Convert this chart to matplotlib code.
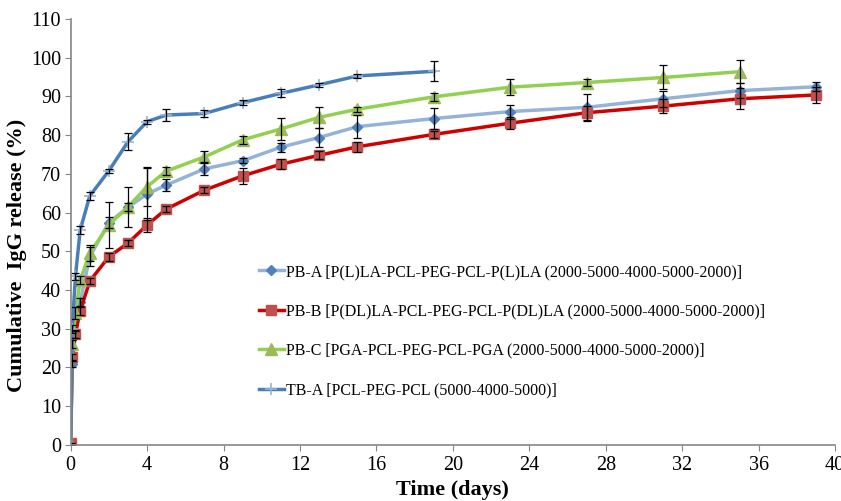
"""
Cumulative IgG release from the four copolymer formulations,
line chart with error bars in the Excel look of the original figure.
"""
import matplotlib
matplotlib.use('Agg')
import matplotlib.pyplot as plt

plt.rcParams['font.family'] = ['Liberation Serif', 'DejaVu Serif']

# Time points (days)
t_pb = [0, 0.083, 0.25, 0.5, 1, 2, 3, 4, 5, 7, 9, 11, 13, 15, 19, 23, 27, 31, 35, 39]
t_pbc = [0, 0.083, 0.25, 0.5, 1, 2, 3, 4, 5, 7, 9, 11, 13, 15, 19, 23, 27, 31, 35]
t_tb = [0, 0.083, 0.25, 0.5, 1, 2, 3, 4, 5, 7, 9, 11, 13, 15, 19]

# Release values (%) and errors
pb_a = [0, 21, 28.5, 37, 48.6, 57.4, 61.4, 64.8, 67.1, 71.3, 73.4, 76.9, 79.4, 82.2, 84.3, 86.1, 87.2, 89.4, 91.5, 92.5]
pb_a_err = [0, 1, 1, 1, 2.5, 1.5, 5.2, 6.8, 1.5, 1.7, 0.7, 1.2, 2.4, 3, 2.6, 1.8, 3.5, 2, 2, 1.2]

pb_b = [0.4, 22.6, 28.7, 34.6, 42.3, 48.6, 52.1, 56.8, 60.9, 65.8, 69.5, 72.5, 74.8, 77.0, 80.2, 83.1, 85.8, 87.5, 89.4, 90.4]
pb_b_err = [0, 1, 1, 1, 0.8, 1, 0.8, 1.8, 0.8, 0.8, 2.1, 1.3, 1, 1.3, 1, 1.5, 1.8, 1.8, 2.7, 2]

pb_c = [0, 26, 34, 42.5, 49.6, 56.8, 61.5, 66.7, 70.7, 74.4, 78.8, 81.6, 84.6, 86.7, 89.9, 92.4, 93.6, 94.9, 96.4]
pb_c_err = [0, 1, 1.5, 1, 2, 6, 1, 5, 1, 1.5, 1, 2.8, 2.7, 0.6, 1, 2, 1, 3.1, 3]

tb_a = [0, 30, 43.5, 55.5, 64.3, 70.8, 78.3, 83.5, 85.2, 85.6, 88.4, 90.8, 93.0, 95.3, 96.5]
tb_a_err = [0, 1, 1, 1, 1, 0.5, 2.2, 0.5, 1.5, 1, 0.7, 1, 0.5, 0.6, 2.6]

labels = ['PB-A [P(L)LA-PCL-PEG-PCL-P(L)LA (2000-5000-4000-5000-2000)]',
          'PB-B [P(DL)LA-PCL-PEG-PCL-P(DL)LA (2000-5000-4000-5000-2000)]',
          'PB-C [PGA-PCL-PEG-PCL-PGA (2000-5000-4000-5000-2000)]',
          'TB-A [PCL-PEG-PCL (5000-4000-5000)]']

fig = plt.figure(figsize=(8.41, 5.01), dpi=100)
ax = fig.add_axes([0.084, 0.112, 0.909, 0.85])

err_kw = dict(fmt='none', ecolor='black', elinewidth=0.9, capsize=3, capthick=0.9, zorder=4)

# lines and markers
l1, = ax.plot(t_pb, pb_a, color='#95B3D7', lw=2.5, marker='D', ms=5,
              mfc='#4F81BD', mec='#4F81BD', label=labels[0], zorder=3)
l2, = ax.plot(t_pb, pb_b, color='#D00000', lw=2.5, marker='s', ms=7.5,
              mfc='#C0504D', mec='#C0504D', label=labels[1], zorder=3)
l3, = ax.plot(t_pbc, pb_c, color='#92D050', lw=2.5, marker='^', ms=8,
              mfc='#9BBB59', mec='#9BBB59', label=labels[2], zorder=3)
l4, = ax.plot(t_tb, tb_a, color='#4A7EBB', lw=2.5, marker='+', ms=9, mew=1.2,
              mec='#95B3D7', label=labels[3], zorder=3)

ax.errorbar(t_pb, pb_a, yerr=pb_a_err, **err_kw)
ax.errorbar(t_pb, pb_b, yerr=pb_b_err, **err_kw)
ax.errorbar(t_pbc, pb_c, yerr=pb_c_err, **err_kw)
ax.errorbar(t_tb, tb_a, yerr=tb_a_err, **err_kw)

ax.set_xlim(0, 40)
ax.set_ylim(0, 110)
ax.set_xticks(range(0, 41, 4))
ax.set_yticks(range(0, 111, 10))
ax.tick_params(axis='both', direction='out', length=4, color='#868686', labelsize=14.5)
ax.tick_params(axis='x', pad=4)
ax.tick_params(axis='y', pad=3)
for side in ['top', 'right']:
    ax.spines[side].set_visible(False)
for side in ['left', 'bottom']:
    ax.spines[side].set_color('#868686')
    ax.spines[side].set_linewidth(1.2)
    ax.spines[side].set_zorder(5)

ax.set_xlabel('Time (days)', fontsize=16, fontweight='bold')
ax.set_ylabel('Cumulative  IgG release (%)', fontsize=16, fontweight='bold')
ax.xaxis.set_label_coords(0.5, -0.083)
ax.yaxis.set_label_coords(-0.057, 0.446)

ax.legend(handles=[l1, l2, l3, l4], loc='upper left', bbox_to_anchor=(0.2375, 0.44),
          frameon=False, fontsize=11.5, handlelength=1.6, handletextpad=0.1,
          labelspacing=1.47, borderaxespad=0)

fig.savefig('out.png', dpi=100)
